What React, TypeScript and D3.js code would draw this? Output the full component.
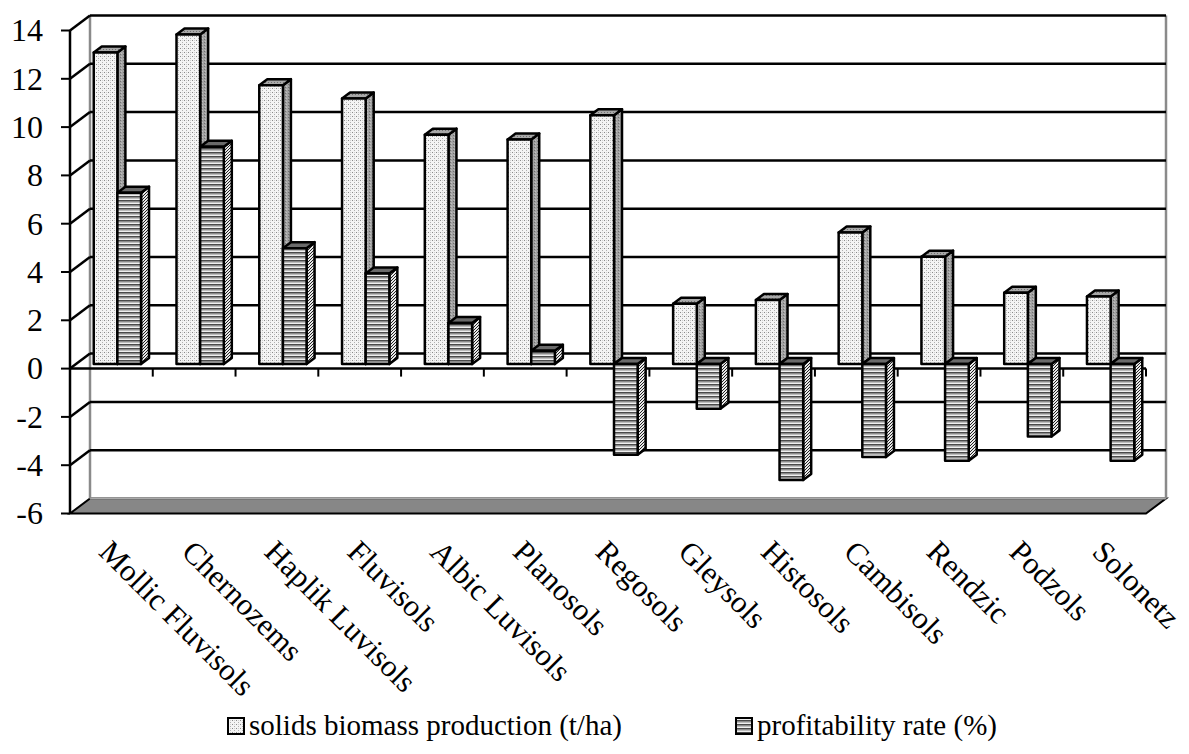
import * as d3 from "d3";

const categories = [
  "Mollic Fluvisols",
  "Chernozems",
  "Haplik Luvisols",
  "Fluvisols",
  "Albic Luvisols",
  "Planosols",
  "Regosols",
  "Gleysols",
  "Histosols",
  "Cambisols",
  "Rendzic",
  "Podzols",
  "Solonetz",
];
const biomass = [12.9, 13.65, 11.55, 11.0, 9.5, 9.3, 10.3, 2.5, 2.65, 5.45, 4.45, 2.95, 2.8];
const profitability = [7.1, 9.0, 4.8, 3.75, 1.7, 0.55, -3.75, -1.85, -4.8, -3.85, -4.0, -3.0, -4.0];
const yTicks = [14, 12, 10, 8, 6, 4, 2, 0, -2, -4, -6];
const seriesNames = ["solids biomass production (t/ha)", "profitability rate (%)"];

const W = 1189;
const H = 754;
const FONT = "'Liberation Serif', 'Times New Roman', serif";

const PLOT = {
  left: 70,
  right: 1146,
  top: 30.5,
  bottom: 513.5,
  depthX: 20,
  depthY: -15,
};

const BAR = {
  frontFrac: 0.3,
  backFrac: 0.7,
  gapRatio: 1.5, // gap width in bar widths
  stroke: "#000",
  strokeWidth: 2.5,
};

const AXIS = {
  fontSize: 32,
  tickSize: 9,
  labelGap: 27,
  gridColor: "#000",
  gridWidth: 2.5,
  wallEdge: "#8a8a8a",
  floorFill: "#878787",
};

const LABEL = { fontSize: 31, y: 539, dx: 0.5 };
const LEGEND = { fontSize: 29, y: 735, box: 16, items: [227, 735] };

const yScale = d3.scaleLinear().domain([-6, 14]).range([PLOT.bottom, PLOT.top]);
const xBand = d3
  .scaleBand<number>()
  .domain(d3.range(categories.length))
  .range([PLOT.left, PLOT.right]);

type Face = { front: string; side: string; top: string };
const FACES: Face[] = [
  { front: "url(#dots)", side: "url(#dotsSide)", top: "url(#dotsTop)" },
  { front: "url(#stripes)", side: "url(#hatch)", top: "#6a6a6a" },
];

function Bar3D({ x, width, value, face }: { x: number; width: number; value: number; face: Face }) {
  const fx = PLOT.depthX * BAR.frontFrac;
  const fy = PLOT.depthY * BAR.frontFrac;
  const dx = PLOT.depthX * (BAR.backFrac - BAR.frontFrac);
  const dy = PLOT.depthY * (BAR.backFrac - BAR.frontFrac);
  const x0 = x + fx;
  const x1 = x0 + width;
  const yTop = yScale(Math.max(0, value)) + fy;
  const yBot = yScale(Math.min(0, value)) + fy;
  const pts = (p: number[][]) => p.map((d) => d.join(",")).join(" ");
  return (
    <g stroke={BAR.stroke} strokeWidth={BAR.strokeWidth} strokeLinejoin="round">
      <polygon
        points={pts([
          [x1, yTop],
          [x1 + dx, yTop + dy],
          [x1 + dx, yBot + dy],
          [x1, yBot],
        ])}
        fill={face.side}
      />
      <polygon
        points={pts([
          [x0, yTop],
          [x0 + dx, yTop + dy],
          [x1 + dx, yTop + dy],
          [x1, yTop],
        ])}
        fill={face.top}
      />
      <rect x={x0} y={yTop} width={width} height={yBot - yTop} fill={face.front} />
    </g>
  );
}

function Patterns() {
  return (
    <defs>
      <pattern id="dots" width="4" height="4" patternUnits="userSpaceOnUse">
        <rect width="4" height="4" fill="#f4f4f4" />
        <rect x="0" y="0" width="1" height="1" fill="#8a8a8a" />
        <rect x="2" y="2" width="1" height="1" fill="#b0b0b0" />
        <rect x="2" y="0" width="1" height="1" fill="#d0d0d0" />
      </pattern>
      <pattern id="dotsSide" width="3" height="3" patternUnits="userSpaceOnUse">
        <rect width="3" height="3" fill="#a2a2a2" />
        <rect x="0" y="0" width="1" height="1" fill="#707070" />
        <rect x="1" y="2" width="1" height="1" fill="#c0c0c0" />
      </pattern>
      <pattern id="dotsTop" width="3" height="3" patternUnits="userSpaceOnUse">
        <rect width="3" height="3" fill="#a8a8a8" />
        <rect x="1" y="1" width="1" height="1" fill="#707070" />
      </pattern>
      <pattern id="stripes" width="4" height="4" patternUnits="userSpaceOnUse">
        <rect width="4" height="4" fill="#f0f0f0" />
        <rect y="0" width="4" height="1.6" fill="#4a4a4a" />
        <rect y="2.4" width="4" height="0.6" fill="#9a9a9a" />
      </pattern>
      <pattern id="hatch" width="3" height="3" patternUnits="userSpaceOnUse">
        <rect width="3" height="3" fill="#e8e8e8" />
        <path d="M-1,1 L1,-1 M0,3 L3,0 M2,4 L4,2" stroke="#222" strokeWidth="1" />
      </pattern>
    </defs>
  );
}

function Walls() {
  const { left, right, depthX: dx, depthY: dy } = PLOT;
  const y0 = yScale(-6);
  return (
    <g>
      {/* floor */}
      <polygon
        points={`${left},${y0} ${right},${y0} ${right + dx},${y0 + dy} ${left + dx},${y0 + dy}`}
        fill={AXIS.floorFill}
        stroke="#000"
        strokeWidth={2}
      />
      <line x1={left + dx} y1={y0 + dy} x2={right + dx} y2={y0 + dy} stroke="#aaa" strokeWidth={2} />
      {/* back wall edges */}
      <line
        x1={left + dx}
        y1={yScale(14) + dy}
        x2={left + dx}
        y2={y0 + dy}
        stroke={AXIS.wallEdge}
        strokeWidth={2.5}
      />
      <line
        x1={right + dx}
        y1={yScale(14) + dy}
        x2={right + dx}
        y2={y0 + dy}
        stroke={AXIS.wallEdge}
        strokeWidth={2.5}
      />
      {/* gridlines */}
      {yTicks
        .filter((t) => t > -6)
        .map((t) => (
          <g key={t} stroke={AXIS.gridColor} strokeWidth={AXIS.gridWidth}>
            <line x1={left + dx} y1={yScale(t) + dy} x2={right + dx} y2={yScale(t) + dy} />
            <line x1={left} y1={yScale(t)} x2={left + dx} y2={yScale(t) + dy} />
          </g>
        ))}
    </g>
  );
}

function AxisY() {
  const { left } = PLOT;
  return (
    <g>
      <line x1={left} y1={yScale(14)} x2={left} y2={yScale(-6)} stroke="#000" strokeWidth={2.5} />
      {yTicks.map((t) => (
        <g key={t}>
          <line
            x1={left - AXIS.tickSize}
            y1={yScale(t)}
            x2={left}
            y2={yScale(t)}
            stroke="#000"
            strokeWidth={2}
          />
          <text
            x={left - AXIS.labelGap}
            y={yScale(t)}
            dy="0.34em"
            textAnchor="end"
            fontSize={AXIS.fontSize}
            fontFamily={FONT}
            fill="#000"
          >
            {t}
          </text>
        </g>
      ))}
    </g>
  );
}

function AxisX() {
  const y = yScale(0);
  const bounds = d3.range(categories.length + 1).map((i) => PLOT.left + i * xBand.step());
  return (
    <g stroke="#000" strokeWidth={2.5}>
      <line x1={PLOT.left} y1={y} x2={PLOT.right} y2={y} />
      {bounds.map((bx, i) => (
        <line key={i} x1={bx} y1={y} x2={bx} y2={y + 8} strokeWidth={2} />
      ))}
    </g>
  );
}

function CategoryLabels() {
  return (
    <g>
      {categories.map((c, i) => {
        const cx = xBand(i)! + xBand.bandwidth() / 2 + LABEL.dx;
        return (
          <text
            key={c}
            transform={`translate(${cx},${LABEL.y}) rotate(45)`}
            y={0}
            dy="0.66em"
            fontSize={LABEL.fontSize}
            fontFamily={FONT}
            fill="#000"
          >
            {c}
          </text>
        );
      })}
    </g>
  );
}

function Legend() {
  const fills = ["url(#dots)", "url(#stripes)"];
  return (
    <g>
      {seriesNames.map((name, i) => {
        const x = LEGEND.items[i];
        return (
          <g key={name}>
            <rect
              x={x + 1}
              y={LEGEND.y - LEGEND.box - 1}
              width={LEGEND.box}
              height={LEGEND.box}
              fill={fills[i]}
              stroke="#000"
              strokeWidth={2}
            />
            <text
              x={x + LEGEND.box + 6}
              y={LEGEND.y}
              fontSize={LEGEND.fontSize}
              fontFamily={FONT}
              fill="#000"
            >
              {name}
            </text>
          </g>
        );
      })}
    </g>
  );
}

export default function App() {
  const step = xBand.step();
  const barW = step / (2 + BAR.gapRatio);
  const series = [biomass, profitability];
  return (
    <svg
      width={W}
      height={H}
      style={{ position: "absolute", left: 0, top: 0, background: "#fff" }}
      xmlns="http://www.w3.org/2000/svg"
    >
      <Patterns />
      <rect width={W} height={H} fill="#fff" />
      <Walls />
      <AxisY />
      <AxisX />
      <g className="bars">
        {categories.map((c, i) => (
          <g key={c}>
            {series.map((s, k) => (
              <Bar3D
                key={k}
                x={PLOT.left + i * step + (BAR.gapRatio / 2) * barW + k * barW}
                width={barW}
                value={s[i]}
                face={FACES[k]}
              />
            ))}
          </g>
        ))}
      </g>
      <CategoryLabels />
      <Legend />
    </svg>
  );
}
